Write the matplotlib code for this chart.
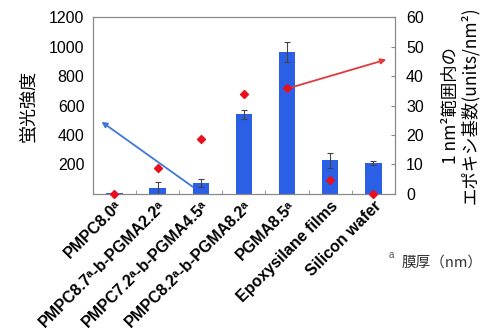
import matplotlib

matplotlib.use("Agg")
import matplotlib.pyplot as plt
import numpy as np

plt.rcParams["font.family"] = ["Liberation Sans", "DejaVu Sans"]

labels = [
    "PMPC8.0ᵃ",
    "PMPC8.7ᵃ-b-PGMA2.2ᵃ",
    "PMPC7.2ᵃ-b-PGMA4.5ᵃ",
    "PMPC8.2ᵃ-b-PGMA8.2ᵃ",
    "PGMA8.5ᵃ",
    "Epoxysilane films",
    "Silicon wafer",
]
intensity = [3, 40, 73, 540, 965, 228, 210]
intensity_err = [0, 40, 25, 30, 68, 52, 15]
epoxy = [0, 8.7, 18.7, 33.8, 35.8, 4.7, 0]

# arrow endpoints (x in category units)
blue_arrow = ((1.82, 47), (-0.3, 490))
red_arrow = ((4.02, 35.8), (6.3, 45.6))

BLUE = "#2b5fe6"
RED = "#e8101c"
JP = ["Noto Sans CJK JP", "DejaVu Sans"]

fig = plt.figure(figsize=(4.81, 3.36), dpi=100)
ax = fig.add_axes([0.193, 0.423, 0.628, 0.526])
x = np.arange(len(labels))
ax.bar(x, intensity, width=0.38, color=BLUE, zorder=2)
ax.errorbar(x, intensity, yerr=intensity_err, fmt="none", ecolor="#444444",
            elinewidth=0.8, capsize=2.5, capthick=0.8, zorder=3)
ax.set_xlim(-0.5, len(labels) - 0.5)
ax.set_ylim(0, 1200)
ax.set_yticks([200, 400, 600, 800, 1000, 1200])
ax.tick_params(axis="y", direction="in", length=0, labelsize=11.5, pad=6)
ax.set_xticks(x)
ax.set_xticklabels(labels, rotation=45, ha="right", va="top",
                   rotation_mode="anchor", fontsize=11.5, fontweight="bold")
ax.tick_params(axis="x", length=0, pad=3)
ax.set_xticks(np.arange(0.5, len(labels) - 0.5), minor=True)
ax.tick_params(axis="x", which="minor", direction="in", length=3, color="#888888")
for s in ax.spines.values():
    s.set_color("#888888")
    s.set_linewidth(0.8)
ax.set_ylabel("蛍光強度", family=JP, fontsize=13, labelpad=8)

ax.annotate("", xy=blue_arrow[1], xytext=blue_arrow[0],
            arrowprops=dict(arrowstyle="-|>", color="#3f78d8", lw=1.3,
                            mutation_scale=8, shrinkA=0, shrinkB=0), zorder=4)

ax2 = ax.twinx()
ax2.set_ylim(0, 60)
ax2.set_yticks(range(0, 61, 10))
ax2.tick_params(axis="y", direction="in", length=3, color="#888888",
                labelsize=11.5, pad=8)
ax2.plot(x, epoxy, "D", color=RED, markersize=4.5, linestyle="none",
         clip_on=False, zorder=5)
ax2.annotate("", xy=red_arrow[1], xytext=red_arrow[0],
             arrowprops=dict(arrowstyle="-|>", color="#e03a3a", lw=1.3,
                             mutation_scale=8, shrinkA=0, shrinkB=0), zorder=4)
ax2.set_ylabel("1 nm²範囲内の\nエポキシ基数(units/nm²)", family=JP,
               fontsize=12.5, linespacing=1.05, labelpad=13)
for s in ax2.spines.values():
    s.set_color("#888888")
    s.set_linewidth(0.8)

fig.text(0.808, 0.233, "a", fontsize=7, color="#555555")
fig.text(0.834, 0.206, "膜厚（nm）", family=JP, fontsize=10.5, color="#333333")

fig.savefig("out.png", dpi=100)
